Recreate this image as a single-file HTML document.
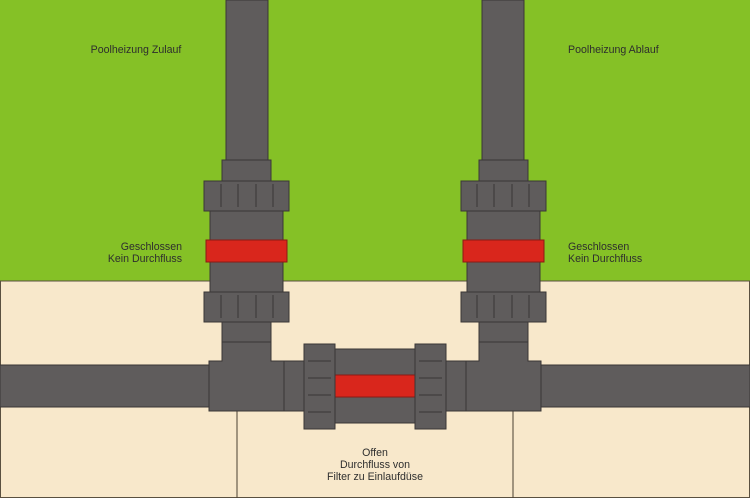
<!DOCTYPE html>
<html><head><style>body{margin:0}svg{display:block}text{font-family:"Liberation Sans",sans-serif;font-size:10.6px;fill:#2e2e2e}</style></head><body>
<svg width="750" height="498" viewBox="0 0 750 498" xmlns="http://www.w3.org/2000/svg">
<rect x="0" y="0" width="750" height="281" fill="#85c126"/>
<rect x="0.5" y="281" width="749" height="216.5" fill="#f8e8cb" stroke="#5a5040" stroke-width="1"/>
<line x1="237" y1="411" x2="237" y2="498" stroke="#4a4030"/>
<line x1="513" y1="411" x2="513" y2="498" stroke="#4a4030"/>
<g fill="#5f5c5c" stroke="#3a3636" stroke-width="1">
<rect x="0" y="365" width="210" height="42"/>
<rect x="540" y="365" width="210" height="42"/>
<g id="L">
<rect x="226" y="0" width="42" height="160"/>
<rect x="222" y="160" width="49" height="21"/>
<rect x="210" y="211" width="73" height="81"/>
<rect x="204" y="181" width="85" height="30"/>
<rect x="204" y="292" width="85" height="30"/>
<rect x="206" y="240" width="81" height="22" fill="#d9261c" stroke="#8a1a14"/>
<rect x="222" y="322" width="49" height="20"/>
<path d="M222 342 H271 V361 H284 V411 H209 V361 H222 Z"/>
<rect x="284" y="361" width="21" height="50"/>
<line x1="221" y1="184" x2="221" y2="207"/><line x1="238" y1="184" x2="238" y2="207"/><line x1="256" y1="184" x2="256" y2="207"/><line x1="273" y1="184" x2="273" y2="207"/>
<line x1="221" y1="295" x2="221" y2="318"/><line x1="238" y1="295" x2="238" y2="318"/><line x1="256" y1="295" x2="256" y2="318"/><line x1="273" y1="295" x2="273" y2="318"/>
</g>
<use href="#L" transform="translate(750,0) scale(-1,1)"/>
<rect x="335" y="349" width="80" height="74"/>
<rect x="335" y="375" width="80" height="22" fill="#d9261c" stroke="#8a1a14"/>
<rect x="304" y="344" width="31" height="85"/>
<rect x="415" y="344" width="31" height="85"/>
<line x1="308" y1="361" x2="331" y2="361"/><line x1="308" y1="378" x2="331" y2="378"/><line x1="308" y1="395" x2="331" y2="395"/><line x1="308" y1="412" x2="331" y2="412"/>
<line x1="419" y1="361" x2="442" y2="361"/><line x1="419" y1="378" x2="442" y2="378"/><line x1="419" y1="395" x2="442" y2="395"/><line x1="419" y1="412" x2="442" y2="412"/>
</g>
<text x="136" y="53" text-anchor="middle">Poolheizung Zulauf</text>
<text x="568" y="53">Poolheizung Ablauf</text>
<text x="182" y="250" text-anchor="end">Geschlossen</text>
<text x="182" y="262" text-anchor="end">Kein Durchfluss</text>
<text x="568" y="250">Geschlossen</text>
<text x="568" y="262">Kein Durchfluss</text>
<text x="375" y="456" text-anchor="middle">Offen</text>
<text x="375" y="468" text-anchor="middle">Durchfluss von</text>
<text x="375" y="480" text-anchor="middle">Filter zu Einlaufdüse</text>
</svg>
</body></html>
